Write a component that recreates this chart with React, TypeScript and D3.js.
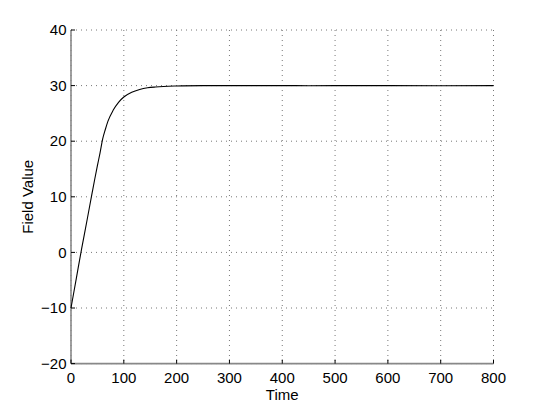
import React from "react";
import * as d3 from "d3";

const timeValues = [0, 10, 20, 30, 40, 45, 50, 55, 60, 65, 70, 80, 90, 100, 115, 130, 145, 160, 175, 200, 250, 300, 400, 450, 500, 600, 700, 800];
const fieldValues = [-10, -4.7, 0.6, 5.6, 10.7, 13.2, 15.6, 17.9, 20.4, 22.1, 23.6, 25.6, 27.0, 27.95, 28.8, 29.3, 29.6, 29.75, 29.85, 29.93, 29.99, 30, 30, 29.98, 30, 30, 29.98, 30];
const xTicks = [0, 100, 200, 300, 400, 500, 600, 700, 800];
const yTicks = [-20, -10, 0, 10, 20, 30, 40];
const xLabel = "Time";
const yLabel = "Field Value";

const W = 546;
const H = 409;
const L = 71, R = 493.5, T = 30, B = 363.6;

export default function App() {
  const x = d3.scaleLinear().domain([0, 800]).range([L, R]);
  const y = d3.scaleLinear().domain([-20, 40]).range([B, T]);
  const pts = timeValues.map((t, i) => [t, fieldValues[i]] as [number, number]);
  const line = d3.line<[number, number]>().x(d => x(d[0])).y(d => y(d[1])).curve(d3.curveMonotoneX);
  const font = "'Liberation Sans', Arial, Helvetica, sans-serif";
  const fs = 15;
  return (
    <svg width={W} height={H} style={{ position: "absolute", left: 0, top: 0, background: "#fff" }} fontFamily={font}>
      <rect x={0} y={0} width={W} height={H} fill="#fff" />
      {xTicks.map(t => (
        <line key={"gx" + t} x1={x(t)} x2={x(t)} y1={T} y2={B} stroke="#777" strokeWidth={1} strokeDasharray="1,4" />
      ))}
      {yTicks.map(t => (
        <line key={"gy" + t} x1={L} x2={R} y1={y(t)} y2={y(t)} stroke="#777" strokeWidth={1} strokeDasharray="1,4" />
      ))}
      <line x1={L} x2={R} y1={B} y2={B} stroke="#888" strokeWidth={1.6} />
      <line x1={L} x2={L} y1={T} y2={B} stroke="#888" strokeWidth={1.6} />
      {xTicks.map(t => (
        <line key={"tx" + t} x1={x(t)} x2={x(t)} y1={B} y2={B - 4} stroke="#000" strokeWidth={1} />
      ))}
      {yTicks.map(t => (
        <line key={"ty" + t} x1={L} x2={L + 4} y1={y(t)} y2={y(t)} stroke="#000" strokeWidth={1} />
      ))}
      <path d={line(pts) || ""} fill="none" stroke="#000" strokeWidth={1.1} />
      {xTicks.map(t => (
        <text key={"lx" + t} x={x(t)} y={383} textAnchor="middle" fontSize={fs} fill="#000">{t}</text>
      ))}
      {yTicks.map(t => (
        <text key={"ly" + t} x={66.5} y={y(t) + 5.2} textAnchor="end" fontSize={fs} fill="#000">{t < 0 ? "\u2212" + Math.abs(t) : t}</text>
      ))}
      <text x={(L + R) / 2} y={399.5} textAnchor="middle" fontSize={fs} fill="#000">{xLabel}</text>
      <text transform={`translate(33,${(T + B) / 2}) rotate(-90)`} textAnchor="middle" fontSize={fs} fill="#000">{yLabel}</text>
    </svg>
  );
}
